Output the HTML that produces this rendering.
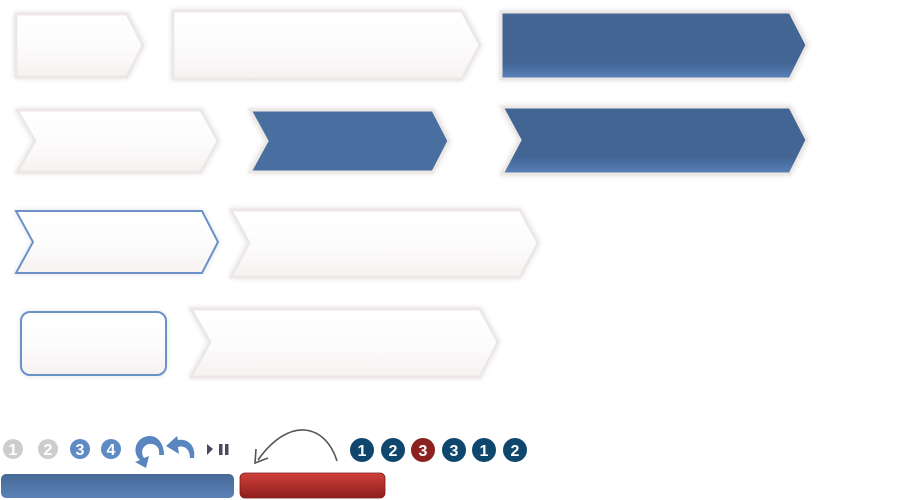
<!DOCTYPE html>
<html><head><meta charset="utf-8"><style>
html,body{margin:0;padding:0;background:#fff;width:900px;height:500px;overflow:hidden}
text{font-family:"Liberation Sans",sans-serif;font-weight:bold;fill:#fff;text-anchor:middle}
</style></head><body>
<svg width="900" height="500" viewBox="0 0 900 500" xmlns="http://www.w3.org/2000/svg">
<defs>
<linearGradient id="wg" x1="0" y1="0" x2="0" y2="1"><stop offset="0" stop-color="#fff"/><stop offset="0.5" stop-color="#fdfcfc"/><stop offset="1" stop-color="#f5f2f1"/></linearGradient>
<linearGradient id="bg1" x1="0" y1="0" x2="0" y2="1"><stop offset="0" stop-color="#426594"/><stop offset="0.75" stop-color="#426594"/><stop offset="1" stop-color="#5a82ba"/></linearGradient>
<linearGradient id="bar1" x1="0" y1="0" x2="0" y2="1"><stop offset="0" stop-color="#466896"/><stop offset="1" stop-color="#5a80b6"/></linearGradient>
<linearGradient id="bar2" x1="0" y1="0" x2="0" y2="1"><stop offset="0" stop-color="#d0403a"/><stop offset="1" stop-color="#8e1e1c"/></linearGradient>
<filter id="sh" x="-10%" y="-30%" width="120%" height="160%"><feGaussianBlur in="SourceAlpha" stdDeviation="3"/><feComponentTransfer><feFuncA type="linear" slope="0.12"/></feComponentTransfer><feMerge><feMergeNode/><feMergeNode in="SourceGraphic"/></feMerge></filter>
</defs>
<g filter="url(#sh)" stroke="#ede8e6" stroke-width="3">
<polygon points="16,14 127,14 143,45 127,77 16,77" fill="url(#wg)"/>
<polygon points="173,11 462,11 480,45 462,79 173,79" fill="url(#wg)"/>
<polygon points="501,12 790,12 807,45 790,79 501,79" fill="url(#bg1)"/>
<polygon points="17,110 201,110 218,141 201,172 17,172 35,141" fill="url(#wg)"/>
<polygon points="250,110 433,110 449,141 433,172 250,172 267,141" fill="#4a6ea0"/>
<polygon points="502,107 790,107 807,140 790,174 502,174 520,140" fill="url(#bg1)"/>
<polygon points="231,210 520,210 538,243 520,277 231,277 249,243" fill="url(#wg)"/>
<polygon points="191,309 480,309 498,342 480,377 191,377 210,342" fill="url(#wg)"/>
</g>
<g filter="url(#sh)">
<polygon points="16,211 202,211 218,242 202,273 16,273 33,242" fill="url(#wg)" stroke="#6a91c8" stroke-width="2"/>
<rect x="21" y="312" width="145" height="63" rx="9" fill="url(#wg)" stroke="#6a91c8" stroke-width="2"/>
</g>
<circle cx="13" cy="449" r="10" fill="#cdcdcd"/><text x="13" y="455" font-size="16">1</text>
<circle cx="48" cy="449" r="10" fill="#cdcdcd"/><text x="48" y="455" font-size="16">2</text>
<circle cx="80" cy="449" r="10" fill="#5f8bc4"/><text x="80" y="455" font-size="16">3</text>
<circle cx="111" cy="449" r="10" fill="#5f8bc4"/><text x="111" y="455" font-size="16">4</text>
<path d="M150,436 C136,436 131,452 140,460 L135,462 L146,468 L149,456 L144,458 C139,450 145,443 152,444 C158,445 160,450 159,455 L164,455 C164,444 158,436 150,436 Z" fill="#5a86c0"/>
<path d="M178,440 C188,438 196,446 194,458 L190,458 C190,450 185,445 178,447 L179,454 L166,446 L177,436 Z" fill="#5a86c0"/>
<polygon points="207,444 213,449 207,455" fill="#4a4a5e"/>
<rect x="219" y="444" width="3.5" height="11" fill="#4a4a5e"/><rect x="225" y="444" width="3.5" height="11" fill="#4a4a5e"/>
<path d="M337,461 C326,425 290,415 258,460" fill="none" stroke="#555" stroke-width="1.6"/>
<path d="M256,449 L255,463 L268,458" fill="none" stroke="#555" stroke-width="1.6"/>
<g font-size="16">
<circle cx="362" cy="450" r="12" fill="#0f466e"/><text x="362" y="456">1</text>
<circle cx="393" cy="450" r="12" fill="#0f466e"/><text x="393" y="456">2</text>
<circle cx="423" cy="450" r="12" fill="#8b2220"/><text x="423" y="456">3</text>
<circle cx="454" cy="450" r="12" fill="#0f466e"/><text x="454" y="456">3</text>
<circle cx="484" cy="450" r="12" fill="#0f466e"/><text x="484" y="456">1</text>
<circle cx="515" cy="450" r="12" fill="#0f466e"/><text x="515" y="456">2</text>
</g>
<rect x="1" y="474" width="233" height="24" rx="5" fill="url(#bar1)"/>
<rect x="240" y="473" width="145" height="25" rx="5" fill="url(#bar2)" stroke="#7a1a18" stroke-width="0.8"/>
</svg>
</body></html>
